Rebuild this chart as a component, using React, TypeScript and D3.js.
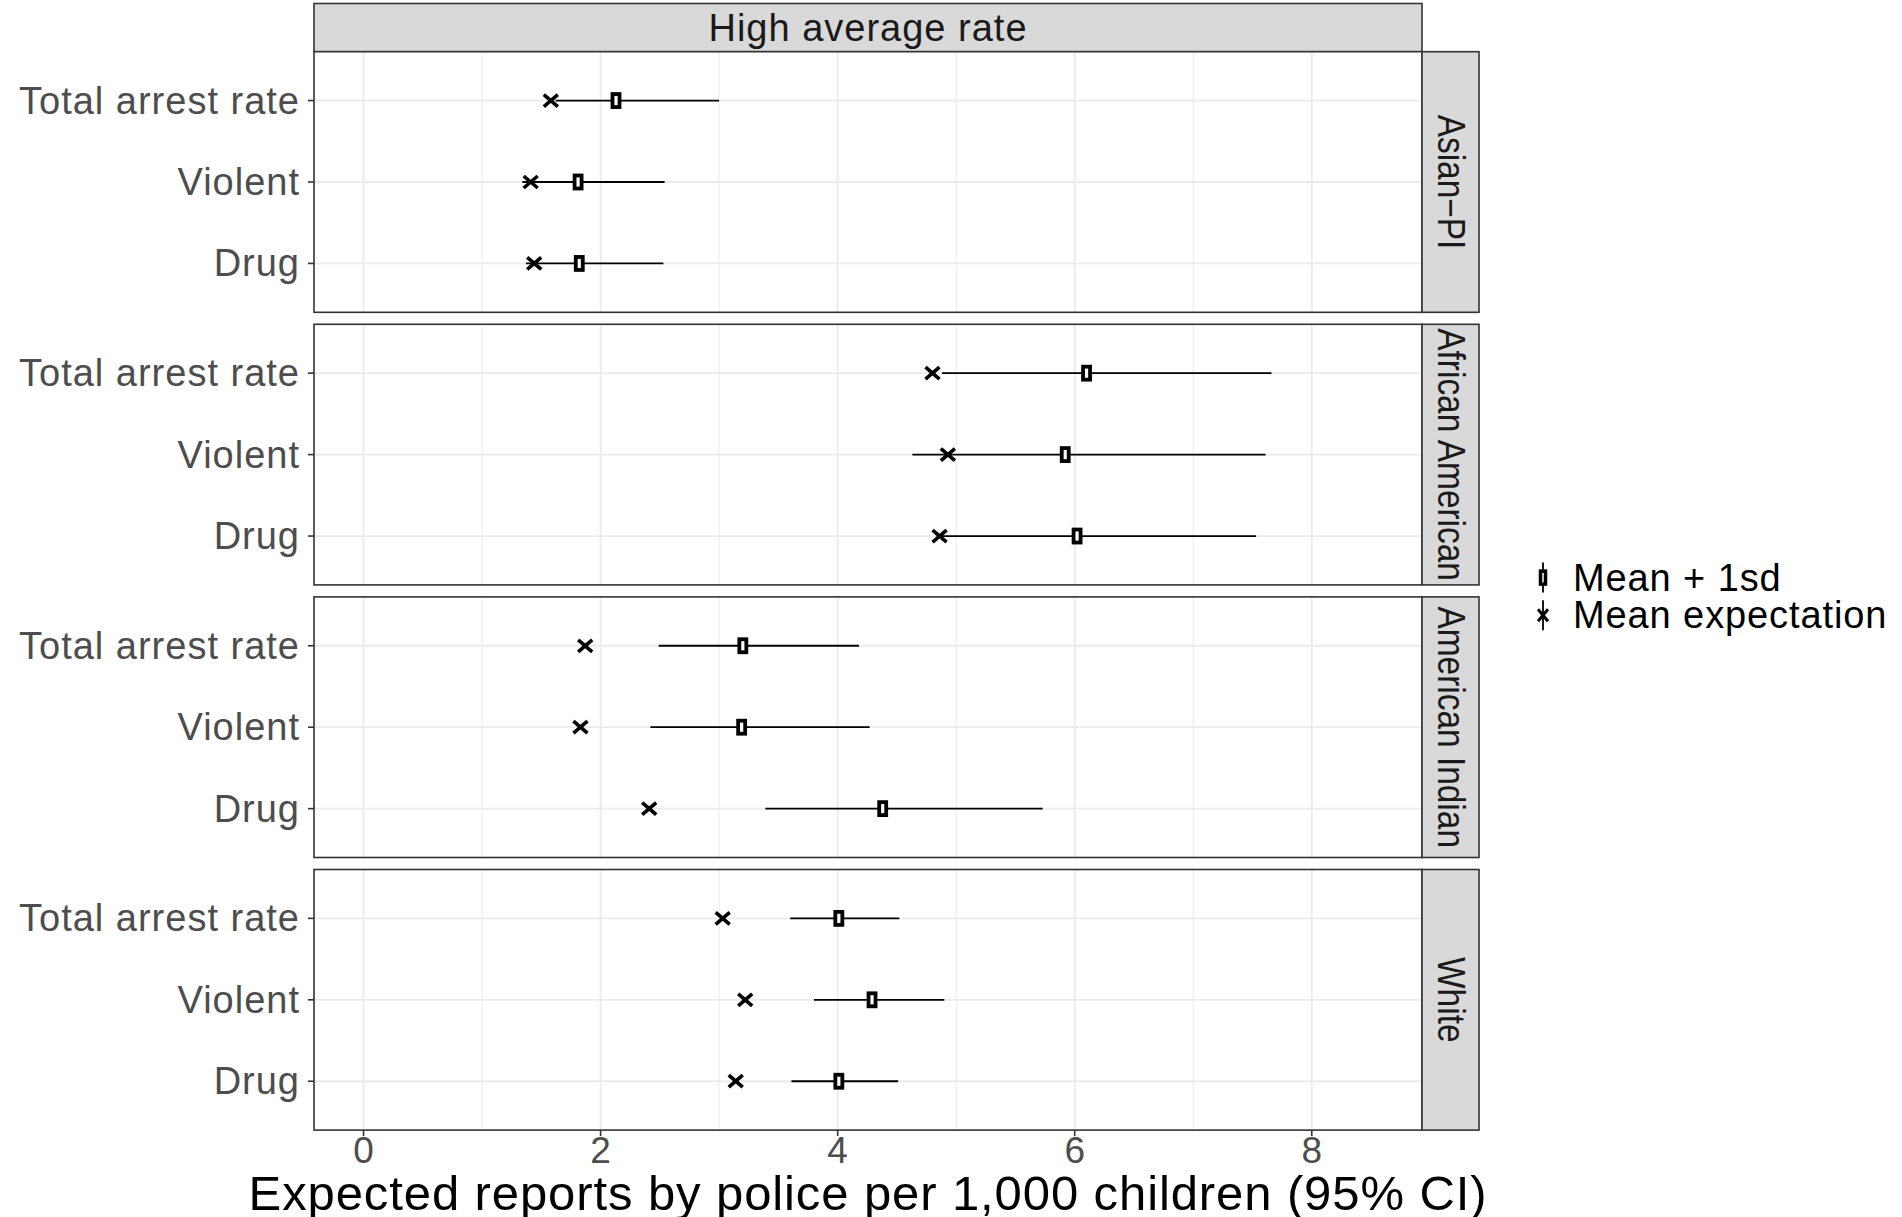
import React from 'react';
import * as d3 from 'd3';

// rows inside each facet, top to bottom
const categories = ['Total arrest rate', 'Violent', 'Drug'];
// facet strips on the right
const groups = ['Asian\u2212PI', 'African American', 'American Indian', 'White'];

// values per group, in the order of categories
const meanExpectation = [
  [1.58, 1.41, 1.44],
  [4.8, 4.93, 4.86],
  [1.87, 1.83, 2.41],
  [3.03, 3.22, 3.14],
];
const meanPlusSd = [
  [2.13, 1.81, 1.82],
  [6.1, 5.92, 6.02],
  [3.2, 3.19, 4.38],
  [4.01, 4.29, 4.01],
];
const ciLow = [
  [1.62, 1.34, 1.37],
  [4.88, 4.63, 4.86],
  [2.49, 2.42, 3.39],
  [3.6, 3.8, 3.61],
];
const ciHigh = [
  [3.0, 2.54, 2.53],
  [7.66, 7.61, 7.53],
  [4.18, 4.27, 5.73],
  [4.52, 4.9, 4.51],
];

const majorTicks = [0, 2, 4, 6, 8];
const minorTicks = [1, 3, 5, 7];
const legendItems = ['Mean + 1sd', 'Mean expectation'];

const W = 1902;
const H = 1217;
const FONT = '"Liberation Sans", Arial, sans-serif';

const panelLeft = 314;
const panelRight = 1422;
const stripTop = 3.5;
const stripBottom = 51.7;
const panelH = 260.6;
const panelGap = 12;
const stripW = 57;

const x = d3.scaleLinear().domain([-0.418, 8.93]).range([panelLeft, panelRight]);

const panelTop = (i: number) => stripBottom + i * (panelH + panelGap);

const Cross = ({ cx, cy, sx = 7, sy = 6, w = 3.6 }) => (
  <g stroke="#000" strokeWidth={w} strokeLinecap="butt">
    <line x1={cx - sx} y1={cy - sy} x2={cx + sx} y2={cy + sy} />
    <line x1={cx - sx} y1={cy + sy} x2={cx + sx} y2={cy - sy} />
  </g>
);

const Box = ({ cx, cy, w = 7, h = 13, sw = 3.8 }) => (
  <rect x={cx - w / 2} y={cy - h / 2} width={w} height={h} fill="#fff" stroke="#000" strokeWidth={sw} />
);

const Panel = ({ gi }) => {
  const top = panelTop(gi);
  const y = d3.scalePoint<string>().domain(categories).range([top, top + panelH]).padding(0.6);
  return (
    <g>
      <rect x={panelLeft} y={top} width={panelRight - panelLeft} height={panelH} fill="#fff" />
      {minorTicks.map((t) => (
        <line key={'mn' + t} x1={x(t)} x2={x(t)} y1={top} y2={top + panelH} stroke="#EBEBEB" strokeWidth={1} />
      ))}
      {majorTicks.map((t) => (
        <line key={'mj' + t} x1={x(t)} x2={x(t)} y1={top} y2={top + panelH} stroke="#EBEBEB" strokeWidth={1.8} />
      ))}
      {categories.map((c) => (
        <line key={'h' + c} x1={panelLeft} x2={panelRight} y1={y(c)} y2={y(c)} stroke="#EBEBEB" strokeWidth={1.8} />
      ))}
      {categories.map((c, ci) => {
        const cy = y(c) as number;
        return (
          <g key={'d' + c}>
            <line x1={x(ciLow[gi][ci])} x2={x(ciHigh[gi][ci])} y1={cy} y2={cy} stroke="#000" strokeWidth={1.8} />
            <Box cx={x(meanPlusSd[gi][ci])} cy={cy} />
            <Cross cx={x(meanExpectation[gi][ci])} cy={cy} />
          </g>
        );
      })}
      <rect x={panelLeft} y={top} width={panelRight - panelLeft} height={panelH} fill="none" stroke="#333" strokeWidth={1.6} />
      {/* y axis ticks and labels */}
      {categories.map((c) => (
        <g key={'yl' + c}>
          <line x1={panelLeft - 6} x2={panelLeft} y1={y(c)} y2={y(c)} stroke="#333" strokeWidth={1.6} />
          <text
            x={panelLeft - 14}
            y={(y(c) as number) + 13}
            textAnchor="end"
            fontFamily={FONT}
            fontSize={38}
            letterSpacing={1}
            fill="#4D4D4D"
          >
            {c}
          </text>
        </g>
      ))}
      {/* right strip */}
      <rect x={panelRight} y={top} width={stripW} height={panelH} fill="#D9D9D9" stroke="#333" strokeWidth={1.6} />
      <text
        transform={`translate(${panelRight + stripW / 2 - 13},${top + panelH / 2}) rotate(90) scale(0.88,1)`}
        textAnchor="middle"
        fontFamily={FONT}
        fontSize={38}
        fill="#1A1A1A"
      >
        {groups[gi]}
      </text>
    </g>
  );
};

export default function App() {
  const bottom = panelTop(groups.length - 1) + panelH;
  const legendX = 1543;
  const legendY = [577.6, 615.2];
  return (
    <svg
      width={W}
      height={H}
      viewBox={`0 0 ${W} ${H}`}
      style={{ position: 'absolute', left: 0, top: 0, background: '#fff' }}
    >
      <rect x={0} y={0} width={W} height={H} fill="#fff" />
      {/* top strip */}
      <rect
        x={panelLeft}
        y={stripTop}
        width={panelRight - panelLeft}
        height={stripBottom - stripTop}
        fill="#D9D9D9"
        stroke="#333"
        strokeWidth={1.6}
      />
      <text
        x={(panelLeft + panelRight) / 2}
        y={(stripTop + stripBottom) / 2 + 13}
        textAnchor="middle"
        fontFamily={FONT}
        fontSize={38}
        letterSpacing={1}
        fill="#1A1A1A"
      >
        High average rate
      </text>
      {groups.map((g, gi) => (
        <Panel key={g} gi={gi} />
      ))}
      {/* x axis */}
      {majorTicks.map((t) => (
        <g key={'xt' + t}>
          <line x1={x(t)} x2={x(t)} y1={bottom} y2={bottom + 6} stroke="#333" strokeWidth={1.6} />
          <text x={x(t)} y={bottom + 33} textAnchor="middle" fontFamily={FONT} fontSize={37} fill="#4D4D4D">
            {t}
          </text>
        </g>
      ))}
      <text
        x={(panelLeft + panelRight) / 2}
        y={1210}
        textAnchor="middle"
        fontFamily={FONT}
        fontSize={49}
        letterSpacing={0.9}
        fill="#000"
      >
        Expected reports by police per 1,000 children (95% CI)
      </text>
      {/* legend */}
      {legendItems.map((l, i) => (
        <g key={l}>
          <line x1={legendX} x2={legendX} y1={legendY[i] - 15} y2={legendY[i] + 15} stroke="#000" strokeWidth={1.8} />
          {i === 0 ? (
            <Box cx={legendX} cy={legendY[i]} w={5} h={13} sw={3.5} />
          ) : (
            <Cross cx={legendX} cy={legendY[i]} sx={5} sy={6} w={3} />
          )}
          <text x={legendX + 30} y={legendY[i] + 13} fontFamily={FONT} fontSize={38} letterSpacing={0.9} fill="#000">
            {l}
          </text>
        </g>
      ))}
    </svg>
  );
}
